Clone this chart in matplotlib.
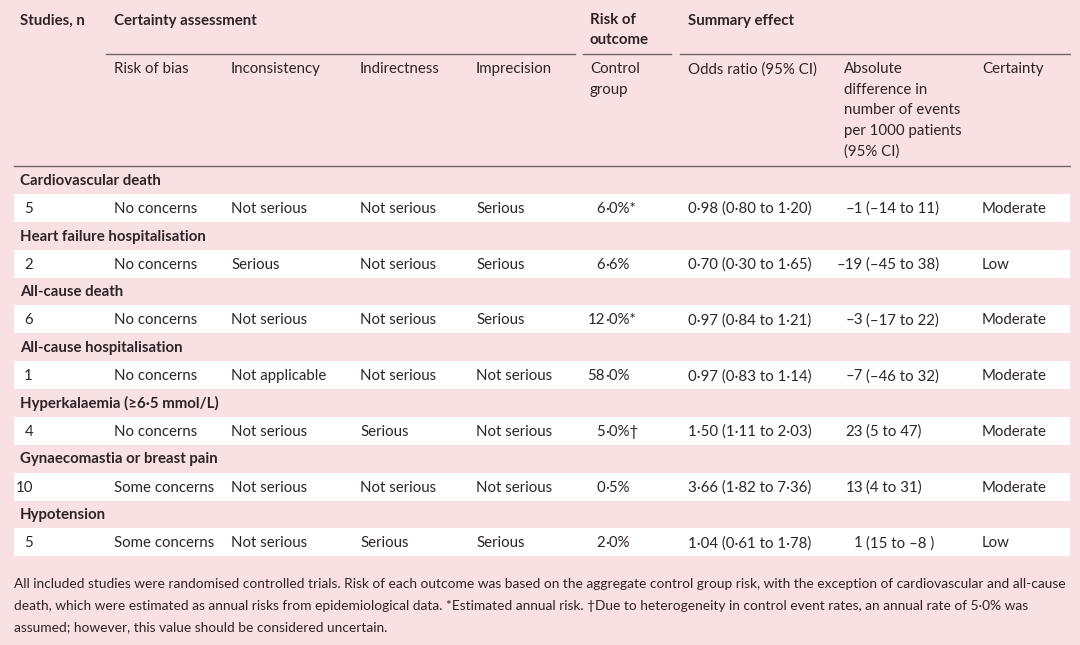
import matplotlib
matplotlib.use("Agg")
import matplotlib.pyplot as plt
from matplotlib import font_manager as fm

# ---------------- data ----------------
group_headers = ["Certainty assessment", "Risk of\noutcome", "Summary effect"]
sub_headers = ["Risk of bias", "Inconsistency", "Indirectness", "Imprecision",
               "Control\ngroup", "Odds ratio (95% CI)",
               "Absolute\ndifference in\nnumber of events\nper 1000 patients\n(95% CI)",
               "Certainty"]
outcomes = ["Cardiovascular death", "Heart failure hospitalisation", "All-cause death",
            "All-cause hospitalisation", "Hyperkalaemia (\u22656\u00b75 mmol/L)",
            "Gynaecomastia or breast pain", "Hypotension"]
studies_n = ["5", "2", "6", "1", "4", "10", "5"]
risk_of_bias = ["No concerns", "No concerns", "No concerns", "No concerns", "No concerns",
                "Some concerns", "Some concerns"]
inconsistency = ["Not serious", "Serious", "Not serious", "Not applicable", "Not serious",
                 "Not serious", "Not serious"]
indirectness = ["Not serious", "Not serious", "Not serious", "Not serious", "Serious",
                "Not serious", "Serious"]
imprecision = ["Serious", "Serious", "Serious", "Not serious", "Not serious",
               "Not serious", "Serious"]
control_risk = ["6\u00b70%*", "6\u00b76%", "12\u00b70%*", "58\u00b70%", "5\u00b70%\u2020",
                "0\u00b75%", "2\u00b70%"]
odds_ratio = ["0\u00b798 (0\u00b780 to 1\u00b720)", "0\u00b770 (0\u00b730 to 1\u00b765)",
              "0\u00b797 (0\u00b784 to 1\u00b721)", "0\u00b797 (0\u00b783 to 1\u00b714)",
              "1\u00b750 (1\u00b711 to 2\u00b703)", "3\u00b766 (1\u00b782 to 7\u00b736)",
              "1\u00b704 (0\u00b761 to 1\u00b778)"]
abs_diff = ["\u20131 (\u201314 to 11)", "\u201319 (\u201345 to 38)", "\u20133 (\u201317 to 22)",
            "\u20137 (\u201346 to 32)", "23 (5 to 47)", "13 (4 to 31)", "1 (15 to \u20138 )"]
certainty = ["Moderate", "Low", "Moderate", "Moderate", "Moderate", "Moderate", "Low"]
footnote = ["All included studies were randomised controlled trials. Risk of each outcome was based on the aggregate control group risk, with the exception of cardiovascular and all-cause",
            "death, which were estimated as annual risks from epidemiological data. *Estimated annual risk. \u2020Due to heterogeneity in control event rates, an annual rate of 5\u00b70% was",
            "assumed; however, this value should be considered uncertain."]

# ---------------- style ----------------
BG = "#f9e0e2"
TXT = "#2e2427"
LINE = "#6e6466"
FONT = ["Lato", "DejaVu Sans"]
FS = 10.8
names = {f.name for f in fm.fontManager.ttflist}
NARROW = ["Liberation Sans Narrow", "Lato", "DejaVu Sans"] if "Liberation Sans Narrow" in names else ["Lato", "DejaVu Sans"]

W, H = 1080, 645
fig = plt.figure(figsize=(W / 100, H / 100), dpi=100, facecolor=BG)
ax = fig.add_axes([0, 0, 1, 1])
ax.set_xlim(0, W)
ax.set_ylim(H, 0)
ax.axis("off")
ax.set_facecolor(BG)

def txt(x, y, s, bold=False, ha="left", fs=FS, family=FONT, va="center", ls=1.55):
    return ax.text(x, y, s, ha=ha, va=va, fontsize=fs, color=TXT, family=family,
                   fontweight="bold" if bold else "normal", linespacing=ls)

col_x = [114, 231, 360, 476, 590, 688, 844, 982]

# header row
txt(20, 21, "Studies, n", bold=True)
txt(114, 21, group_headers[0], bold=True)
txt(590, 13, group_headers[1], bold=True, va="top", ls=1.5)
txt(688, 21, group_headers[2], bold=True)
ax.plot([106, 575], [54, 54], color=LINE, lw=1)
ax.plot([583, 671], [54, 54], color=LINE, lw=1)
ax.plot([680, 1070], [54, 54], color=LINE, lw=1)
for x, s in zip(col_x, sub_headers):
    txt(x, 62, s, va="top", ls=1.6)
ax.plot([14, 1070], [166, 166], color=LINE, lw=1)

# body
row0 = 181
step = 55.7
for i in range(len(outcomes)):
    yc = row0 + i * step
    yd = yc + 28
    ax.add_patch(plt.Rectangle((14, yd - 15), 1056, 28, facecolor="white", edgecolor="none"))
    txt(20, yc, outcomes[i], bold=True)
    txt(33, yd, studies_n[i], ha="right")
    txt(col_x[0], yd, risk_of_bias[i])
    txt(col_x[1], yd, inconsistency[i])
    txt(col_x[2], yd, indirectness[i])
    txt(col_x[3], yd, imprecision[i])
    ip, rest = control_risk[i].split("\u00b7", 1)
    txt(605, yd, ip, ha="right")
    txt(605, yd, "\u00b7" + rest, ha="left")
    txt(col_x[5], yd, odds_ratio[i])
    first, rest = abs_diff[i].split(" ", 1)
    txt(863, yd, first, ha="right")
    txt(866, yd, rest, ha="left")
    txt(col_x[7], yd, certainty[i])

# footnote: fit first line width
fig.canvas.draw()
r = fig.canvas.get_renderer()
t = txt(14, 584, footnote[0], fs=10, family=NARROW)
w = t.get_window_extent(r).width
fs_fn = 10 * 1053 / w
t.set_fontsize(fs_fn)
for k in (1, 2):
    txt(14, 584 + 21.5 * k, footnote[k], fs=fs_fn, family=NARROW)

fig.savefig("out.png", dpi=100, facecolor=BG)
